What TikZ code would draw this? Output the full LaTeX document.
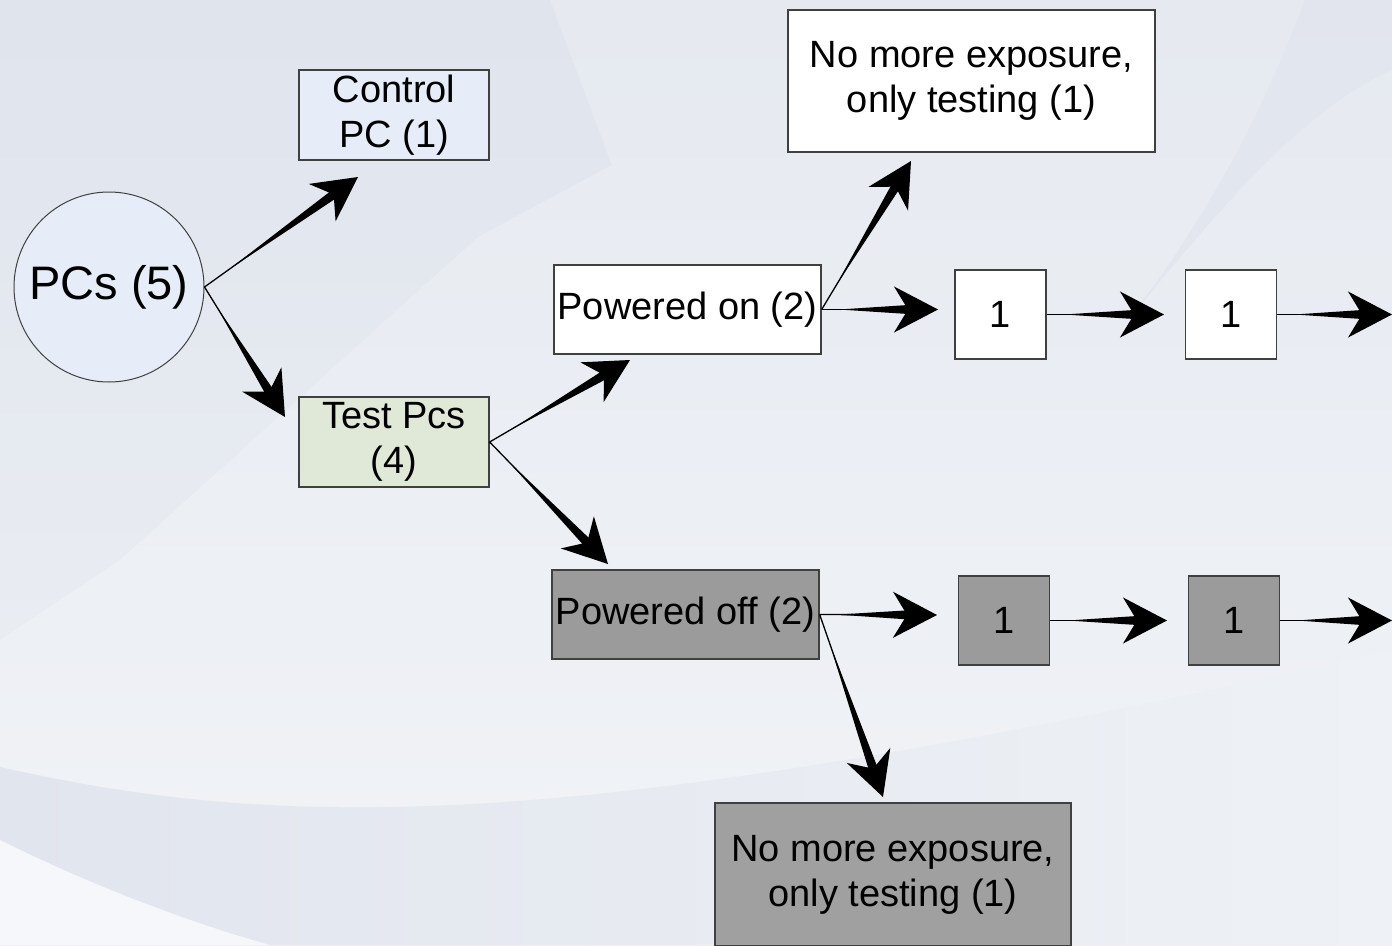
\documentclass[tikz,border=0pt]{standalone}
\usepackage{fontspec}
\setmainfont{Liberation Sans}
\usetikzlibrary{arrows.meta,calc}

\definecolor{bgtop}{HTML}{DFE4ED}
\definecolor{bgbottom}{HTML}{EEF1F5}
\definecolor{bgband}{HTML}{E1E5EE}
\definecolor{bglight}{HTML}{F5F7FA}
\definecolor{pcsblue}{HTML}{E6EDF8}
\definecolor{ctrlblue}{HTML}{E6EDF9}
\definecolor{testgreen}{HTML}{E0E8D8}
\definecolor{offgrey}{HTML}{9B9B9B}

\tikzset{
  box/.style={draw=black!75, line width=1.3pt, inner sep=0pt, align=center,
              font=\fontsize{38}{45}\selectfont},
  onbox/.style={box, fill=white},
  offbox/.style={box, fill=offgrey},
  numbox/.style={minimum width=91pt, minimum height=89pt},
  arrowline/.style={line width=1.3pt, -{Stealth[length=44pt,width=46pt,inset=14pt]}},
}

% thin line that swells into a fat head
\newcommand\fatarrow[2]{%
  \draw[arrowline] (#1) -- (#2);
  \fill ($(#1)!0.15!(#2)$) -- ($(#2)!30pt!(#1)!4.5pt!90:(#1)$)
    -- ($(#2)!30pt!(#1)!4.5pt!-90:(#1)$) -- cycle;
}

\begin{document}
\begin{tikzpicture}[x=1pt, y=-1pt]
\useasboundingbox (0,0) rectangle (1392,945);
% background
\shade[top color=bgtop, bottom color=bgbottom] (0,0) rectangle (1392,945);
\fill[white, opacity=0.22] (550,0) -- (612,165) -- (478,237) -- (120,560) -- (0,640)
  -- (0,945) -- (1392,945) -- (1392,0) -- cycle;
\fill[bgband, opacity=0.8] (1305,0) .. controls (1260,120) and (1200,230) .. (1120,330)
  .. controls (1210,220) and (1300,110) .. (1392,70) -- (1392,0) -- cycle;
\shade[left color=bgband, right color=bgbottom] (0,767) .. controls (300,835) and (600,830) .. (1392,650)
  -- (1392,945) -- (0,945) -- cycle;
\fill[bglight] (0,840) .. controls (80,880) and (180,920) .. (270,945) -- (0,945) -- cycle;
%
\node[draw=black!75, line width=1pt, circle, fill=pcsblue, minimum size=190pt, inner sep=0pt,
      font=\fontsize{47}{55}\selectfont] (pcs) at (109,287) {PCs (5)};
\node[box, fill=ctrlblue, minimum width=190pt, minimum height=90pt] (ctrl) at (394,115) {Control\\PC (1)};
\node[box, fill=testgreen, minimum width=190pt, minimum height=90pt] (test) at (394,442) {Test Pcs\\(4)};
%
\node[onbox, minimum width=267pt, minimum height=89pt] (on) at (687.5,309.5) {Powered on (2)};
\node[onbox, minimum width=367pt, minimum height=142pt] (onstop) at (971.5,81) {No more exposure,\\only testing (1)};
\node[onbox, numbox] (onA) at (1000.5,314.5) {1};
\node[onbox, numbox] (onB) at (1231,314.5) {1};
%
\node[offbox, minimum width=267pt, minimum height=89pt] (off) at (685.5,614.5) {Powered off (2)};
\node[offbox, numbox] (offA) at (1004,620.5) {1};
\node[offbox, numbox] (offB) at (1234,620.5) {1};
\node[offbox, fill=offgrey!95!white, minimum width=356pt, minimum height=143pt] (offstop) at (893,874.5) {No more exposure,\\only testing (1)};
%
\coordinate (ctrltip) at (358,177);
\coordinate (testtip) at (285,417);
\coordinate (ontip) at (630,360);
\coordinate (offtip) at (608,564);
\coordinate (onstoptip) at (911,161);
\coordinate (onAtip) at (938,309.5);
\coordinate (onBtip) at (1164,314.5);
\coordinate (onend) at (1392,314.5);
\coordinate (offAtip) at (937,615);
\coordinate (offBtip) at (1167,620.5);
\coordinate (offend) at (1392,620.5);
\coordinate (offstoptip) at (883,797);
%
\fatarrow{pcs.east}{ctrltip}
\fatarrow{pcs.east}{testtip}
\fatarrow{test.east}{ontip}
\fatarrow{test.east}{offtip}
\fatarrow{on.east}{onstoptip}
\fatarrow{on.east}{onAtip}
\fatarrow{onA.east}{onBtip}
\fatarrow{onB.east}{onend}
\fatarrow{off.east}{offAtip}
\fatarrow{offA.east}{offBtip}
\fatarrow{offB.east}{offend}
\fatarrow{off.east}{offstoptip}
\end{tikzpicture}
\end{document}
